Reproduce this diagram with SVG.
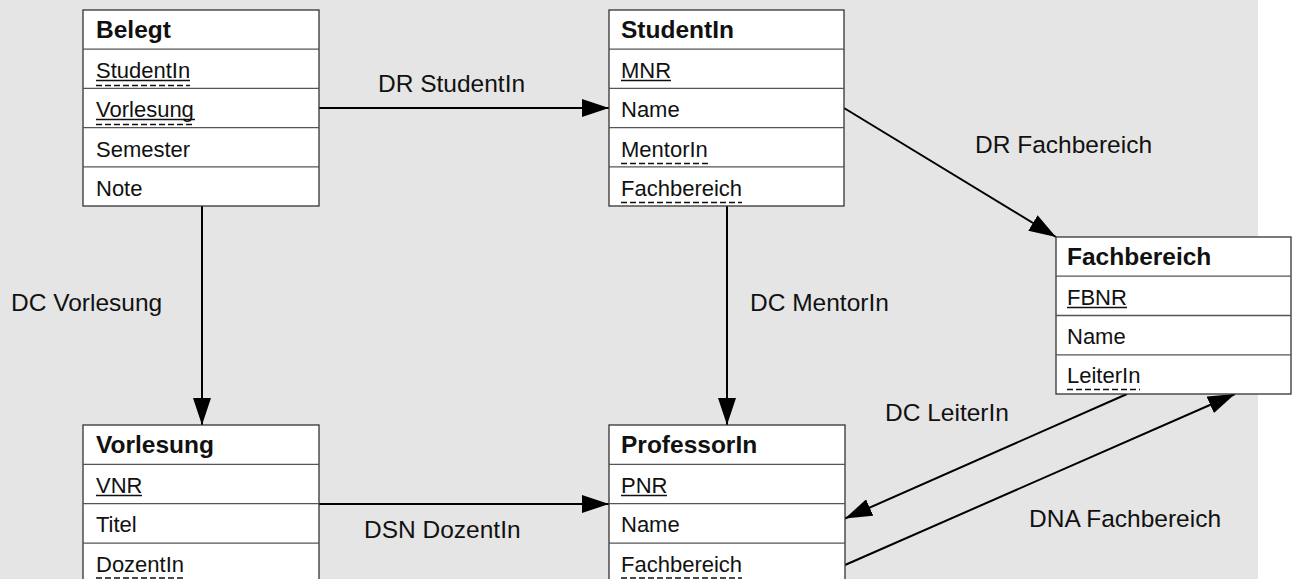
<svg xmlns="http://www.w3.org/2000/svg" width="1296" height="579" viewBox="0 0 1296 579">
<style>
.box{fill:#fff;stroke:#333;stroke-width:1.3}
.sep{stroke:#555;stroke-width:1.3}
.hdr{font-family:"Liberation Sans",Arial,sans-serif;font-weight:bold;font-size:24.5px;fill:#111}
.att{font-family:"Liberation Sans",Arial,sans-serif;font-size:22px;fill:#111}
.lbl{font-family:"Liberation Sans",Arial,sans-serif;font-size:24.5px;fill:#111}
.pk{stroke:#111;stroke-width:1.5}
.fk{stroke:#111;stroke-width:1.5;stroke-dasharray:6 3}
.con{stroke:#000;stroke-width:2;fill:none;marker-end:url(#arr)}
</style>
<defs>
<marker id="arr" viewBox="0 0 27 18" refX="27" refY="9" markerWidth="27" markerHeight="18" markerUnits="userSpaceOnUse" orient="auto">
<path d="M0,0 L27,9 L0,18 z" fill="#000"/>
</marker>
</defs>
<rect x="0" y="0" width="1258" height="579" fill="#e5e5e5"/>

<g id="connectors">
<line class="con" x1="319" y1="108" x2="609" y2="108"/>
<line class="con" x1="844" y1="108" x2="1056" y2="237"/>
<line class="con" x1="202" y1="206" x2="202" y2="425"/>
<line class="con" x1="727" y1="206" x2="727" y2="425"/>
<line class="con" x1="319" y1="504" x2="609" y2="504"/>
<line class="con" x1="1127" y1="394" x2="845" y2="518.5"/>
<line class="con" x1="845" y1="565" x2="1235" y2="394"/>
<text class="lbl" x="378" y="92">DR StudentIn</text>
<text class="lbl" x="975" y="153">DR Fachbereich</text>
<text class="lbl" x="11" y="311">DC Vorlesung</text>
<text class="lbl" x="750" y="311">DC MentorIn</text>
<text class="lbl" x="364" y="538">DSN DozentIn</text>
<text class="lbl" x="885" y="421">DC LeiterIn</text>
<text class="lbl" x="1029" y="527">DNA Fachbereich</text>
</g>

<g id="belegt">
<rect class="box" x="83" y="10" width="236" height="196"/>
<line class="sep" x1="83" y1="49.2" x2="319" y2="49.2"/>
<line class="sep" x1="83" y1="88.4" x2="319" y2="88.4"/>
<line class="sep" x1="83" y1="127.6" x2="319" y2="127.6"/>
<line class="sep" x1="83" y1="166.8" x2="319" y2="166.8"/>
<text class="hdr" x="96" y="38">Belegt</text>
<text class="att" x="96" y="78">StudentIn</text>
<line class="pk" x1="96" y1="80.5" x2="190" y2="80.5"/>
<line class="fk" x1="96" y1="85.5" x2="190" y2="85.5"/>
<text class="att" x="96" y="117">Vorlesung</text>
<line class="pk" x1="96" y1="119.5" x2="195" y2="119.5"/>
<line class="fk" x1="96" y1="124.5" x2="195" y2="124.5"/>
<text class="att" x="96" y="157">Semester</text>
<text class="att" x="96" y="196">Note</text>
</g>

<g id="studentin">
<rect class="box" x="609" y="10" width="235" height="196"/>
<line class="sep" x1="609" y1="49.2" x2="844" y2="49.2"/>
<line class="sep" x1="609" y1="88.4" x2="844" y2="88.4"/>
<line class="sep" x1="609" y1="127.6" x2="844" y2="127.6"/>
<line class="sep" x1="609" y1="166.8" x2="844" y2="166.8"/>
<text class="hdr" x="621" y="38">StudentIn</text>
<text class="att" x="621" y="78">MNR</text>
<line class="pk" x1="621" y1="80.5" x2="671" y2="80.5"/>
<text class="att" x="621" y="117">Name</text>
<text class="att" x="621" y="157">MentorIn</text>
<line class="fk" x1="621" y1="163.5" x2="708" y2="163.5"/>
<text class="att" x="621" y="196">Fachbereich</text>
<line class="fk" x1="621" y1="202.5" x2="742" y2="202.5"/>
</g>

<g id="fachbereich">
<rect class="box" x="1056" y="237" width="235" height="157"/>
<line class="sep" x1="1056" y1="276.2" x2="1291" y2="276.2"/>
<line class="sep" x1="1056" y1="315.5" x2="1291" y2="315.5"/>
<line class="sep" x1="1056" y1="354.8" x2="1291" y2="354.8"/>
<text class="hdr" x="1067" y="265">Fachbereich</text>
<text class="att" x="1067" y="305">FBNR</text>
<line class="pk" x1="1067" y1="307.5" x2="1127" y2="307.5"/>
<text class="att" x="1067" y="344">Name</text>
<text class="att" x="1067" y="383">LeiterIn</text>
<line class="fk" x1="1067" y1="389.5" x2="1140" y2="389.5"/>
</g>

<g id="vorlesung">
<rect class="box" x="83" y="425" width="236" height="160"/>
<line class="sep" x1="83" y1="464.3" x2="319" y2="464.3"/>
<line class="sep" x1="83" y1="503.7" x2="319" y2="503.7"/>
<line class="sep" x1="83" y1="543.2" x2="319" y2="543.2"/>
<text class="hdr" x="96" y="453">Vorlesung</text>
<text class="att" x="96" y="493">VNR</text>
<line class="pk" x1="96" y1="495.5" x2="142" y2="495.5"/>
<text class="att" x="96" y="532">Titel</text>
<text class="att" x="96" y="572">DozentIn</text>
<line class="fk" x1="96" y1="578" x2="184" y2="578"/>
</g>

<g id="professorin">
<rect class="box" x="609" y="425" width="236" height="160"/>
<line class="sep" x1="609" y1="464.3" x2="845" y2="464.3"/>
<line class="sep" x1="609" y1="503.7" x2="845" y2="503.7"/>
<line class="sep" x1="609" y1="543.2" x2="845" y2="543.2"/>
<text class="hdr" x="621" y="453">ProfessorIn</text>
<text class="att" x="621" y="493">PNR</text>
<line class="pk" x1="621" y1="495.5" x2="667" y2="495.5"/>
<text class="att" x="621" y="532">Name</text>
<text class="att" x="621" y="572">Fachbereich</text>
<line class="fk" x1="621" y1="578" x2="742" y2="578"/>
</g>
</svg>
